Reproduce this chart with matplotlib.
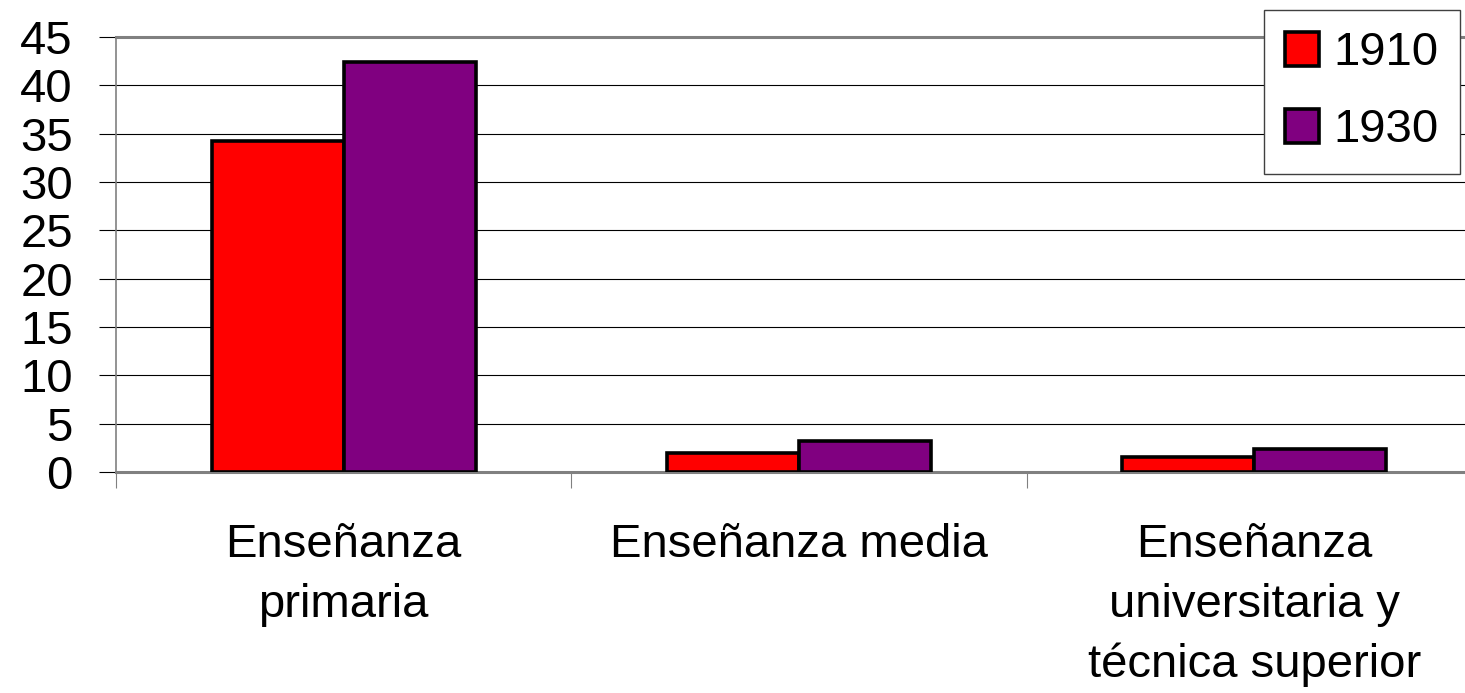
import numpy as np
import matplotlib.pyplot as plt
from matplotlib.patches import Patch

categories = ['Enseñanza\nprimaria', 'Enseñanza media', 'Enseñanza\nuniversitaria y\ntécnica superior']
series_names = ['1910', '1930']
values_1910 = [34.2, 2.0, 1.6]
values_1930 = [42.4, 3.2, 2.4]
yticks = [0, 5, 10, 15, 20, 25, 30, 35, 40, 45]

plt.rcParams['font.family'] = ['Liberation Sans', 'DejaVu Sans']

fig = plt.figure(figsize=(14.65, 6.93), dpi=100)
# axes runs a bit past the right edge, like the original
ax = fig.add_axes([116 / 1465, 221 / 693, 1366 / 1465, 435 / 693])

x = np.arange(len(categories))
w = 0.29
ax.bar(x - w / 2, values_1910, w, color='#FF0000', edgecolor='black', linewidth=2.6, zorder=3)
ax.bar(x + w / 2, values_1930, w, color='#800080', edgecolor='black', linewidth=2.6, zorder=3)

ax.set_xlim(-0.5, 2.5)
ax.set_ylim(0, 45)
ax.set_yticks(yticks)
ax.set_yticklabels([str(t) for t in yticks], fontsize=34)
ax.yaxis.grid(True, color='black', linewidth=0.8, zorder=0)
ax.set_axisbelow(True)

# category boundaries as major ticks, names as minor ticks
ax.set_xticks([-0.5, 0.5, 1.5, 2.5])
ax.set_xticklabels([])
ax.set_xticks(x, minor=True)
ax.set_xticklabels(categories, minor=True, fontsize=34, linespacing=1.45)
ax.tick_params(axis='x', which='major', length=11.5, width=0.8, color='#808080', direction='out')
ax.tick_params(axis='x', which='minor', length=0, pad=37)
ax.tick_params(axis='y', length=12, width=0.8, color='black', pad=19)

for s in ['top', 'bottom', 'left']:
    ax.spines[s].set_color('#808080')
ax.spines['top'].set_linewidth(2.2)
ax.spines['bottom'].set_linewidth(2.2)
ax.spines['left'].set_linewidth(1.2)
ax.spines['right'].set_visible(False)

handles = [Patch(facecolor='#FF0000', edgecolor='black', linewidth=2.6),
           Patch(facecolor='#800080', edgecolor='black', linewidth=2.6)]
leg = fig.legend(handles, series_names, loc='upper right',
                 bbox_to_anchor=(1460 / 1465, 1 - 10 / 693), fontsize=34,
                 handlelength=0.72, handleheight=0.72, handletextpad=0.3,
                 labelspacing=0.7, borderpad=0.45, borderaxespad=0,
                 fancybox=False, framealpha=1, edgecolor='#404040')
leg.get_frame().set_linewidth(1.0)

fig.savefig('out.png', dpi=100)
